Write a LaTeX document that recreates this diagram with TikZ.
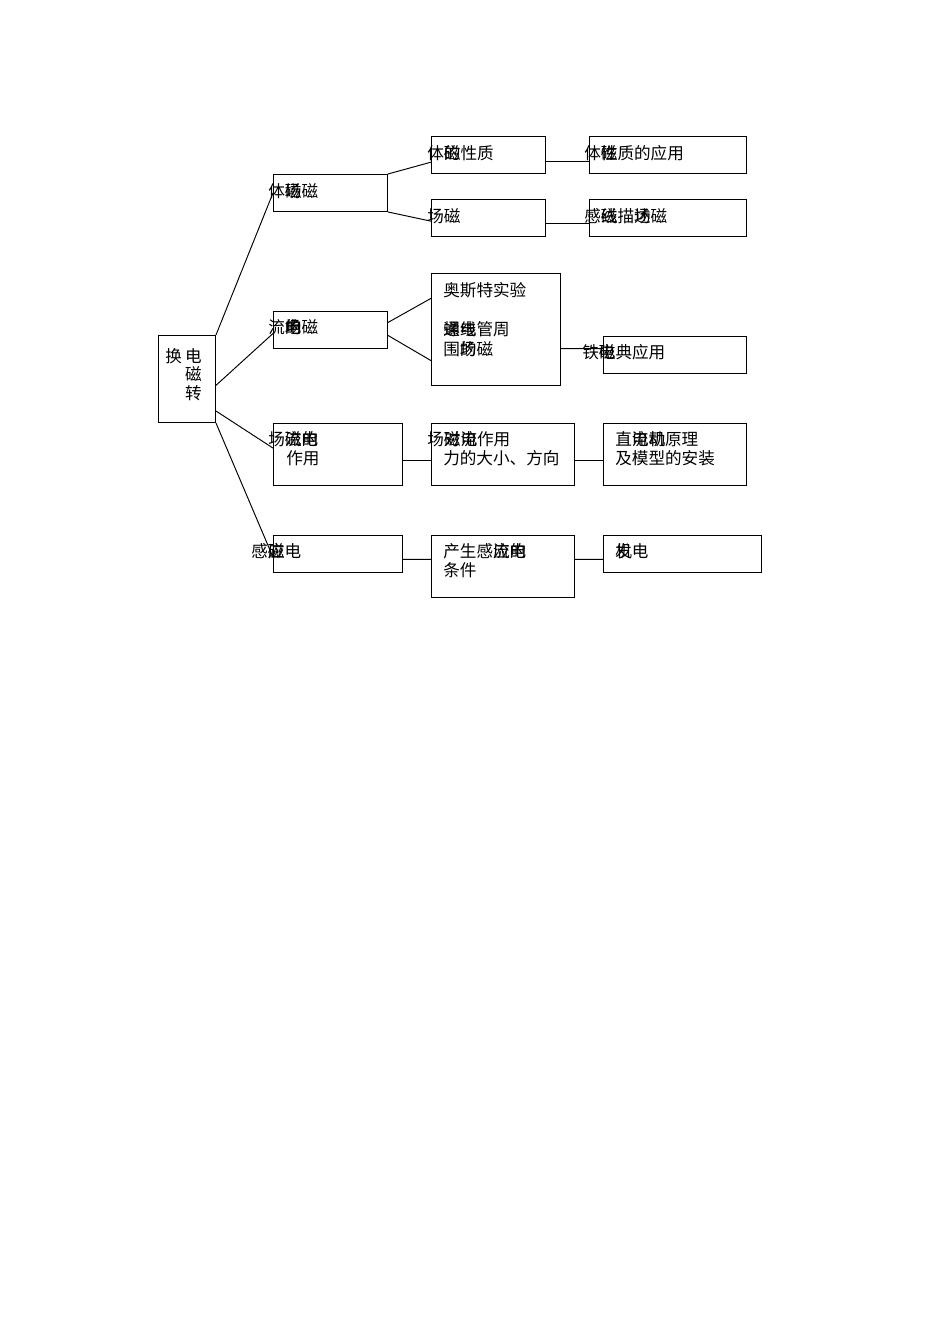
\documentclass[tikz,border=0pt]{standalone}
\usepackage{fontspec}
\setmainfont{Noto Sans CJK SC}
\usetikzlibrary{positioning}
% two glyphs printed on the same spot
\newcommand\ov[2]{\makebox[0pt][l]{#1}#2}
% lines of a label, baseline on the first line
\newcommand\rows[1]{\begin{tabular}[t]{@{}l@{}}#1\end{tabular}}

\begin{document}
\begin{tikzpicture}[
    x=0.6266pt, y=-0.6266pt,
    box/.style 2 args={draw, line width=0.6pt, anchor=north west, inner sep=0pt,
        minimum width=#1*0.6266pt, minimum height=#2*0.6266pt},
    lbl/.style={anchor=base west, inner sep=0pt,
        font=\fontsize{10.4}{12.3}\selectfont},
    con/.style={line width=0.6pt}
]
\useasboundingbox (0,0) rectangle (950,1344);

% boxes
\node[box={57}{87}] (root) at (158,335) {};
\node[box={114}{37}] (magnet) at (273,174) {};
\node[box={114}{37}] (current) at (273,311) {};
\node[box={129}{62}] (force) at (273,423) {};
\node[box={129}{37}] (induct) at (273,535) {};
\node[box={114}{37}] (prop) at (431,136) {};
\node[box={114}{37}] (field) at (431,199) {};
\node[box={129}{112}] (oersted) at (431,273) {};
\node[box={143}{62}] (size) at (431,423) {};
\node[box={143}{62}] (cond) at (431,535) {};
\node[box={157}{37}] (use) at (589,136) {};
\node[box={157}{37}] (lines) at (589,199) {};
\node[box={143}{37}] (emag) at (603,336) {};
\node[box={143}{62}] (motor) at (603,423) {};
\node[box={158}{37}] (gen) at (603,535) {};

% texts
\node[lbl, font=\fontsize{10.4}{10.3}\selectfont] (tRoot) at (165,362) {\rows{换\hspace{2pt}电\\\hspace{12.4pt}磁\\\hspace{12.4pt}转}};
\node[lbl] (tMagnet) at (268,197) {体\ov{磁}{场}磁};
\node[lbl] (tCurrent) at (268,333) {流\ov{电}{\ov{的}{场}}磁};
\node[lbl] (tForce) at (268,445) {\rows{场\ov{磁}{流}\ov{电}{的}\\\hspace{11.3pt}作用}};
\node[lbl] (tInduct) at (251,557) {感\ov{磁}{应}电};
\node[lbl] (tProp) at (427,159) {体\ov{磁}{的}性质};
\node[lbl] (tField) at (427,222) {场磁};
\node[lbl] (tOersted) at (443,296) {\rows{奥斯特实验\\[12.3pt]\ov{通}{螺}\ov{电}{线}管周\\围\ov{的}{场}磁}};
\node[lbl] (tSize) at (427,445) {\rows{场\ov{磁}{对}\ov{流}{电}作用\\\hspace{10pt}力的大小、方向}};
\node[lbl] (tCond) at (443,557) {\rows{产生感\ov{应}{流}\ov{电}{的}\\条件}};
\node[lbl] (tUse) at (584,159) {体\ov{磁}{性}质的应用};
\node[lbl] (tLines) at (584,222) {感\ov{磁}{线}描\ov{述}{场}磁};
\node[lbl] (tEmag) at (582,358) {铁\ov{电}{磁}典应用};
\node[lbl] (tMotor) at (615,445) {\rows{直\ov{流}{电}\ov{动}{机}原理\\及模型的安装}};
\node[lbl] (tGen) at (615,557) {\ov{发}{机}电};

% connectors
\draw[con] (root.north east) -- (magnet.west);
\draw[con] ([yshift=-4pt]root.east) -- ([yshift=-2.2pt]current.west);
\draw[con] ([yshift=7.5pt]root.south east) -- ([yshift=4pt]force.west);
\draw[con] (root.south east) -- ([yshift=-2pt]induct.west);
\draw[con] (magnet.north east) -- ([yshift=-4.5pt]prop.west);
\draw[con] (magnet.south east) -- ([yshift=-2pt]field.west);
\draw[con] ([yshift=4.7pt]current.east) -- ([yshift=19.5pt]oersted.west);
\draw[con] ([yshift=-3.4pt]current.east) -- ([yshift=-19.5pt]oersted.west);
\draw[con] ([yshift=-4pt]prop.east) -- ([yshift=-4pt]use.west);
\draw[con] ([yshift=-3.5pt]field.east) -- ([yshift=-3.5pt]lines.west);
\draw[con] ([yshift=-12pt]oersted.east) -- ([yshift=4pt]emag.west);
\draw[con] ([yshift=-3.8pt]force.east) -- ([yshift=-3.8pt]size.west);
\draw[con] ([yshift=-3.8pt]size.east) -- ([yshift=-3.8pt]motor.west);
\draw[con] ([yshift=-3.4pt]induct.east) -- ([yshift=4.4pt]cond.west);
\draw[con] ([yshift=4.4pt]cond.east) -- ([yshift=-3.4pt]gen.west);
\end{tikzpicture}
\end{document}
